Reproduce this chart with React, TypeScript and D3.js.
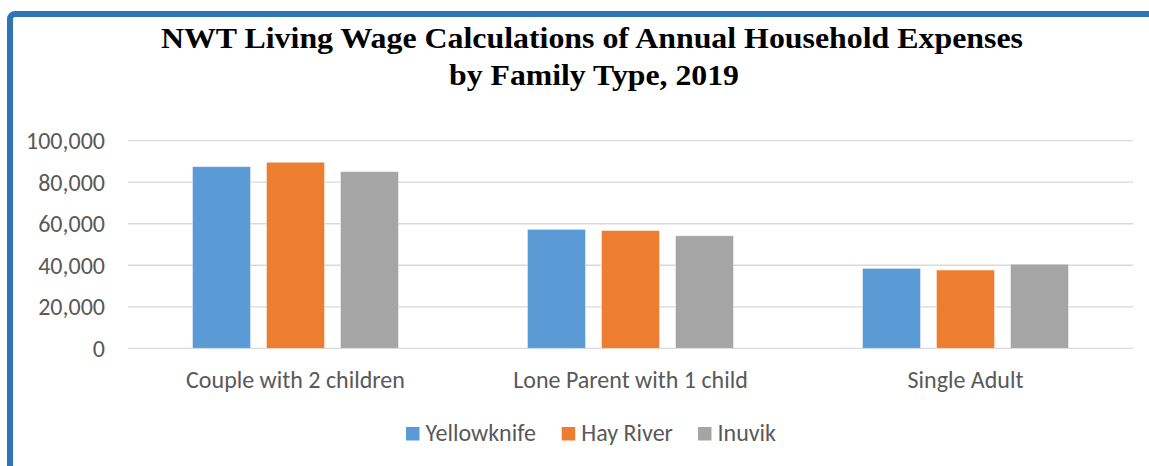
import React from "react";
import * as d3 from "d3";

const categories = ["Couple with 2 children", "Lone Parent with 1 child", "Single Adult"];
const seriesNames = ["Yellowknife", "Hay River", "Inuvik"];
const yellowknife = [87500, 57300, 38500];
const hayRiver = [89600, 56700, 37700];
const inuvik = [85100, 54200, 40500];
const yTicks = [0, 20000, 40000, 60000, 80000, 100000];
const colors = ["#5B9BD5", "#ED7D31", "#A5A5A5"];

const W = 1149;
const H = 466;
const left = 128;
const right = 1133;
const top = 140.7;
const bottom = 348.3;

export default function App() {
  const series = [yellowknife, hayRiver, inuvik];
  const x0 = d3.scaleBand<string>().domain(categories).range([left, right]).padding(0);
  const y = d3.scaleLinear().domain([0, 100000]).range([bottom, top]);
  const fmt = d3.format(",");
  const step = 74;
  const x1 = d3
    .scaleBand<string>()
    .domain(seriesNames)
    .range([0, step * 3])
    .paddingInner(16 / 74)
    .paddingOuter(8 / 74);
  const labelFont = "Carlito, Calibri, 'Open Sans', sans-serif";
  const legendX = [406, 561.7, 698];
  const fs = 24;
  return (
    <svg
      width={W}
      height={H}
      style={{ position: "absolute", left: 0, top: 0, display: "block", background: "#fff" }}
    >
      <rect x={10} y={14} width={1300} height={700} rx={5} fill="#fff" stroke="#2E75B6" strokeWidth={6} />
      <text
        x={592}
        y={47.5}
        textAnchor="middle"
        fontFamily="'Liberation Serif', 'Times New Roman', serif"
        fontWeight="bold"
        fontSize={30}
        fill="#000"
        textLength={862}
        lengthAdjust="spacingAndGlyphs"
      >
        NWT Living Wage Calculations of Annual Household Expenses
      </text>
      <text
        x={594}
        y={85}
        textAnchor="middle"
        fontFamily="'Liberation Serif', 'Times New Roman', serif"
        fontWeight="bold"
        fontSize={30}
        fill="#000"
        textLength={290}
        lengthAdjust="spacingAndGlyphs"
      >
        by Family Type, 2019
      </text>
      {yTicks.map((t) => (
        <g key={t}>
          <line x1={left} x2={right} y1={y(t)} y2={y(t)} stroke="#D9D9D9" strokeWidth={1.3} />
          <text
            x={105}
            y={y(t)}
            dy="0.35em"
            textAnchor="end"
            fontFamily={labelFont}
            fontSize={fs}
            fill="#595959"
          >
            {fmt(t)}
          </text>
        </g>
      ))}
      {categories.map((c, ci) => {
        const cx = (x0(c) as number) + x0.bandwidth() / 2;
        const gx = cx - (step * 3) / 2;
        return (
          <g key={c}>
            {series.map((s, si) => (
              <rect
                key={si}
                x={gx + (x1(seriesNames[si]) as number)}
                y={y(s[ci])}
                width={x1.bandwidth()}
                height={bottom - y(s[ci])}
                fill={colors[si]}
                stroke="#fff"
                strokeOpacity={0.5}
                strokeWidth={0.8}
              />
            ))}
            <text
              x={cx}
              y={388}
              textAnchor="middle"
              fontFamily={labelFont}
              fontSize={fs}
              fill="#595959"
            >
              {c}
            </text>
          </g>
        );
      })}
      {seriesNames.map((n, i) => (
        <g key={n}>
          <rect x={legendX[i]} y={427} width={13.5} height={13.5} fill={colors[i]} />
          <text
            x={legendX[i] + 19.5}
            y={441}
            fontFamily={labelFont}
            fontSize={fs}
            fill="#595959"
          >
            {n}
          </text>
        </g>
      ))}
    </svg>
  );
}
